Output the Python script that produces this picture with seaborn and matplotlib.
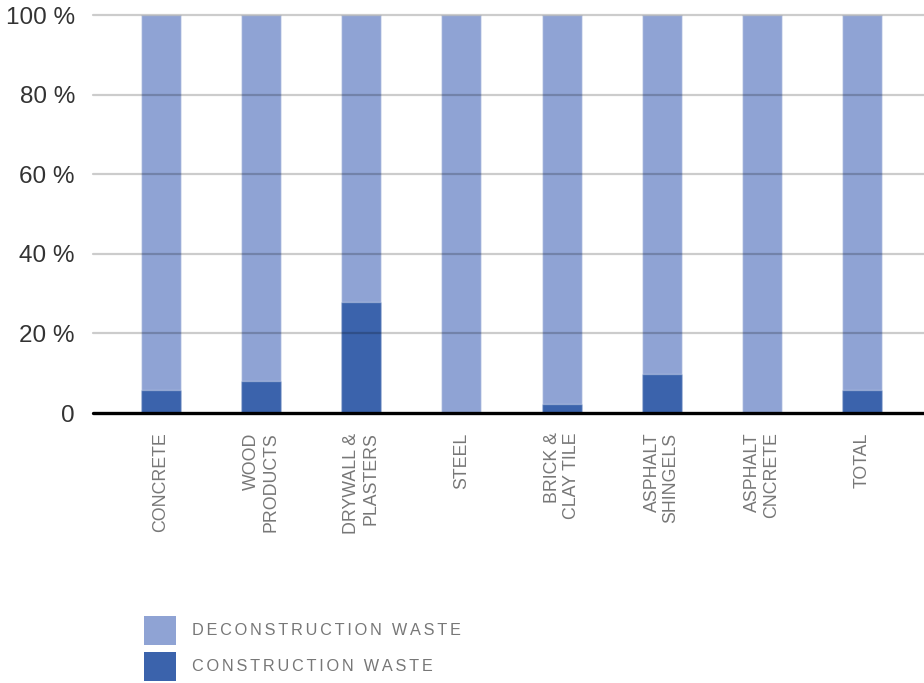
import matplotlib
matplotlib.use("Agg")
import matplotlib.pyplot as plt
from matplotlib.patches import Patch
import numpy as np
import pandas as pd
import seaborn as sns

# Waste composition by material (% of each category)
categories = ["CONCRETE", "WOOD\nPRODUCTS", "DRYWALL &\nPLASTERS", "STEEL",
              "BRICK &\nCLAY TILE", "ASPHALT\nSHINGELS", "ASPHALT\nCNCRETE", "TOTAL"]
construction = [5.8, 8.1, 28.0, 0.0, 2.3, 9.7, 0.0, 5.8]
deconstruction = [94.2, 91.9, 72.0, 100.0, 97.7, 90.3, 100.0, 94.2]
y_ticks = [0, 20, 40, 60, 80, 100]
y_tick_labels = ["0", "20 %", "40 %", "60 %", "80 %", "100 %"]
series_names = ["DECONSTRUCTION WASTE", "CONSTRUCTION WASTE"]

light_blue = "#8FA3D4"
dark_blue = "#3B63AC"


def tracked(text, gap="\u2006"):
    """Spread the letters of a label apart (letter-spaced caption style)."""
    return gap.join(text)


df = pd.DataFrame({
    "category": categories,
    "construction": construction,
    "deconstruction": deconstruction,
})
df["stack_top"] = df["construction"] + df["deconstruction"]

sns.set_theme(style="white")
plt.rcParams["font.family"] = ["Liberation Sans", "DejaVu Sans"]

fig = plt.figure(figsize=(9.24, 6.83), dpi=100)
ax = fig.add_axes([93 / 924, 1 - 413 / 683, 1 - 93 / 924, (413 - 15) / 683])

sns.barplot(data=df, x="category", y="stack_top", color=light_blue,
            saturation=1, width=0.4, ax=ax, edgecolor=(1, 1, 1, 0.45),
            linewidth=1, zorder=1)
sns.barplot(data=df, x="category", y="construction", color=dark_blue,
            saturation=1, width=0.4, ax=ax, edgecolor=(1, 1, 1, 0.3),
            linewidth=1, zorder=2)

ax.set_xlim(-0.68, 7.62)
ax.set_ylim(0, 100)
ax.set_xlabel("")
ax.set_ylabel("")
for s in ax.spines.values():
    s.set_visible(False)

# grid lines drawn over the bars, translucent
for yv in y_ticks[1:]:
    ax.axhline(yv, color="black", alpha=0.2, lw=1.6, zorder=3, clip_on=False)
ax.axhline(0, color="black", lw=2.4, zorder=4, clip_on=False)

ax.set_yticks(y_ticks)
ax.set_yticklabels(y_tick_labels, fontsize=17.5, color="#333333")
ax.tick_params(axis="y", length=0, pad=13)

ax.set_xticks(range(len(categories)))
ax.set_xticklabels(categories, rotation=90, fontsize=12.8, color="#777777",
                   va="top", ha="center", multialignment="right",
                   linespacing=1.15)
ax.tick_params(axis="x", length=0, pad=14)

handles = [Patch(facecolor=light_blue, edgecolor="none"),
           Patch(facecolor=dark_blue, edgecolor="none")]
leg_fs = 11.7
leg_px = leg_fs * 100 / 72
leg = fig.legend(handles, [tracked(n) for n in series_names], loc="upper left",
                 bbox_to_anchor=(137 / 924, 1 - 609 / 683),
                 frameon=False, fontsize=leg_fs,
                 handlelength=32 / leg_px, handleheight=39 / leg_px,
                 handletextpad=17 / leg_px, labelspacing=7 / leg_px,
                 borderaxespad=0)
for t in leg.get_texts():
    t.set_color("#777777")

fig.savefig("out.png", dpi=100)
